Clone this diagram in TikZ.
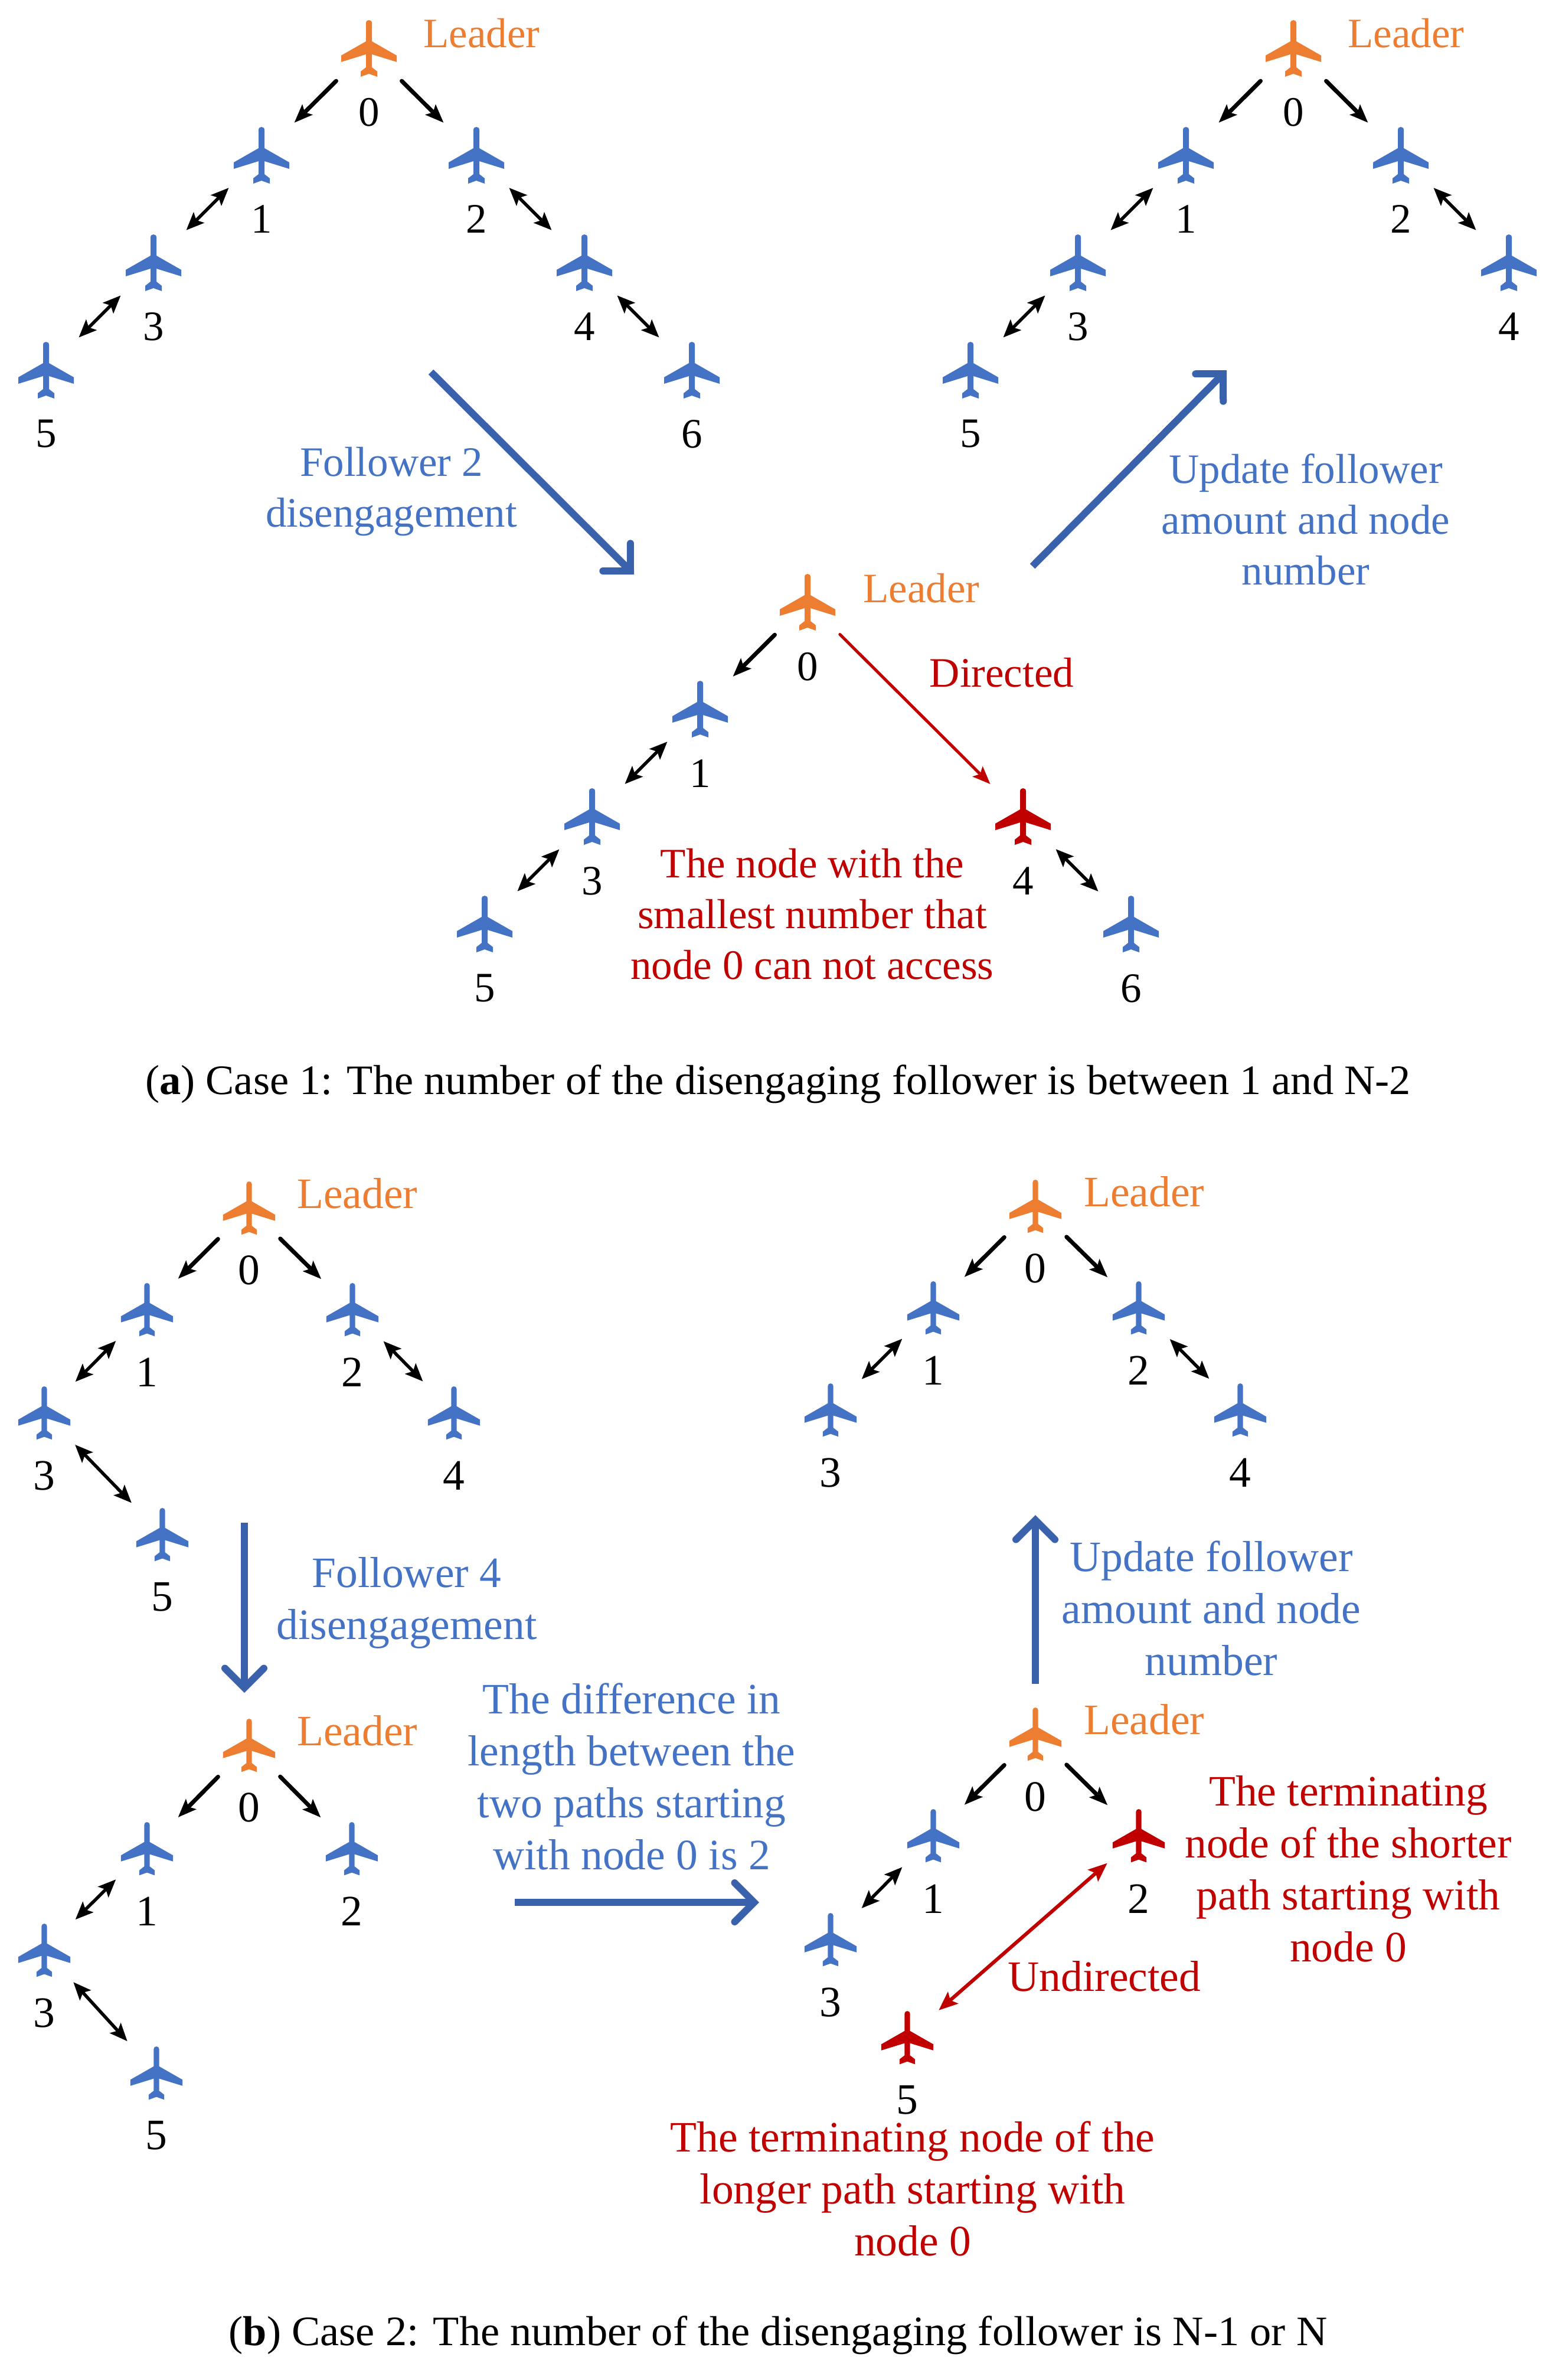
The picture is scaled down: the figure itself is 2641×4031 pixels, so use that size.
\documentclass[tikz,border=0pt]{standalone}
\usepackage{fontspec}
\usepackage{graphicx}
\setmainfont{Liberation Serif}
\usetikzlibrary{arrows.meta,calc}
\definecolor{pblue}{HTML}{4472C4}
\definecolor{porange}{HTML}{ED7D31}
\definecolor{pred}{HTML}{C00000}
\definecolor{bigblue}{HTML}{3A62AC}
\def\ps{1}\def\fs{71}\def\ls{86}
\tikzset{
  planebox/.style={minimum width={94pt*\ps},minimum height={96pt*\ps},inner sep=0pt,outer sep=0pt},
  numlabel/.style={font=\fontsize{\fs}{\ls}\selectfont,text=black,inner sep=0pt},
  leadertxt/.style={font=\fontsize{\fs}{\ls}\selectfont,text=porange,inner sep=0pt,anchor=base west},
  bluetxt/.style={font=\fontsize{\fs}{\ls}\selectfont,text=pblue,align=center,inner sep=0pt},
  redtxt/.style={font=\fontsize{\fs}{\ls}\selectfont,text=pred,align=center,inner sep=0pt},
  captxt/.style={font=\fontsize{71}{86}\selectfont,text=black,inner sep=0pt},
  oneway/.style={line width=7pt,line cap=round,draw=black,-{Stealth[length=31pt,width=24pt,inset=6pt]},shorten <=12pt,shorten >=12pt},
  twoway/.style={line width=5.5pt,draw=black,{Stealth[length=30pt,width=25pt,inset=6pt]}-{Stealth[length=30pt,width=25pt,inset=6pt]},shorten <=12pt,shorten >=12pt},
  redone/.style={line width=5pt,line cap=round,draw=pred,-{Stealth[length=30pt,width=24pt,inset=6pt]},shorten <=11pt,shorten >=12pt},
  redtwo/.style={line width=6pt,draw=pred,{Stealth[length=32pt,width=26pt,inset=6pt]}-{Stealth[length=32pt,width=26pt,inset=6pt]},shorten <=12pt,shorten >=12pt},
  bigarrow/.style={line width=12pt,draw=bigblue,-{Straight Barb[length=33pt,width=66pt,round=false,line join=miter]}},
}
% name, x, top y, colour, label, label offset
\newcommand{\plane}[6]{%
  \begin{scope}[shift={(#2,#3)}]
    \node[planebox] (#1) at (0,{48*\ps}) {};
    \fill[#4,scale=\ps] (-5,5) .. controls (-5,-1.6) and (5,-1.6) .. (5,5) -- (5,36) -- (47,60) -- (47,71) -- (5,58) -- (5,80) -- (14,87) -- (14,96) -- (0,91) -- (-14,96) -- (-14,87) -- (-5,80) -- (-5,58) -- (-47,71) -- (-47,60) -- (-5,36) -- cycle;
    \node[numlabel] (#1l) at (0,#6) {#5};
  \end{scope}}
\begin{document}
\begin{tikzpicture}[x=1pt,y=-1pt]
\useasboundingbox (0,0) rectangle (2641,4031);
\fill[white] (0,0) rectangle (2641,4031);
% Group A
\plane{aa}{625}{34}{porange}{0}{156}
\plane{ab}{443}{215}{pblue}{1}{156}
\plane{ac}{807}{215}{pblue}{2}{156}
\plane{ad}{260}{397}{pblue}{3}{156}
\plane{ae}{990}{397}{pblue}{4}{156}
\plane{af}{78}{579}{pblue}{5}{156}
\plane{ag}{1172}{579}{pblue}{6}{156}
\node[leadertxt] (al) at (717,80) {Leader};
\draw[oneway] (aa) -- (ab);
\draw[oneway] (aa) -- (ac);
\draw[twoway] (ab) -- (ad);
\draw[twoway] (ad) -- (af);
\draw[twoway] (ac) -- (ae);
\draw[twoway] (ae) -- (ag);
% Group B
\plane{ba}{2191}{34}{porange}{0}{156}
\plane{bb}{2009}{215}{pblue}{1}{156}
\plane{bc}{2373}{215}{pblue}{2}{156}
\plane{bd}{1826}{397}{pblue}{3}{156}
\plane{be}{2556}{397}{pblue}{4}{156}
\plane{bf}{1644}{579}{pblue}{5}{156}
\node[leadertxt] (bl) at (2283,80) {Leader};
\draw[oneway] (ba) -- (bb);
\draw[oneway] (ba) -- (bc);
\draw[twoway] (bb) -- (bd);
\draw[twoway] (bd) -- (bf);
\draw[twoway] (bc) -- (be);
% Group C
\plane{ca}{1368}{972}{porange}{0}{157}
\plane{cb}{1186}{1153}{pblue}{1}{157}
\plane{cd}{1003}{1335}{pblue}{3}{157}
\plane{cf}{821}{1517}{pblue}{5}{157}
\plane{ce}{1733}{1335}{pred}{4}{157}
\plane{cg}{1916}{1517}{pblue}{6}{157}
\node[leadertxt] (cl) at (1462,1020) {Leader};
\draw[oneway] (ca) -- (cb);
\draw[twoway] (cb) -- (cd);
\draw[twoway] (cd) -- (cf);
\draw[redone] (ca) -- (ce);
\draw[twoway] (ce) -- (cg);
% Big arrows
\coordinate (s1) at (730,630); \coordinate (e1) at (1074,973);
\coordinate (s2) at (1749,959); \coordinate (e2) at (2078,627);
\coordinate (s3) at (414,2579); \coordinate (e3) at (414,2867);
\coordinate (s4) at (872,3222); \coordinate (e4) at (1286,3222);
\coordinate (s5) at (1754,2852); \coordinate (e5) at (1754,2566);
\draw[bigarrow] (s1) -- (e1);
\draw[bigarrow] (s2) -- (e2);
\draw[bigarrow] (s3) -- (e3);
\draw[bigarrow] (s4) -- (e4);
\draw[bigarrow] (s5) -- (e5);
% Text, upper part
\node[bluetxt] (t1) at (663,833) {Follower 2\\disengagement};
\node[bluetxt] (t2) at (2212,880) {Update follower\\amount and node\\number};
\node[redtxt] (t3) at (1697,1139) {Directed};
\node[redtxt] (t4) at (1376,1548) {The node with the\\smallest number that\\node 0 can not access};
\node[captxt] (c1) at (1318,1836) {\scalebox{1.02}[1]{(\textbf{a}) Case 1: The number of the disengaging follower is between 1 and N-2}};
% Lower part: slightly smaller planes, slightly larger text
\def\ps{0.94}\def\fs{73.5}\def\ls{88}
% Group D
\plane{da}{422}{2001}{porange}{0}{150}
\plane{db}{249}{2173}{pblue}{1}{151}
\plane{dc}{597}{2173}{pblue}{2}{151}
\plane{dd}{75}{2348}{pblue}{3}{151}
\plane{de}{769}{2348}{pblue}{4}{151}
\plane{df}{275}{2554}{pblue}{5}{151}
\node[leadertxt] (dl) at (503,2046) {Leader};
\draw[oneway] (da) -- (db);
\draw[oneway] (da) -- (dc);
\draw[twoway] (db) -- (dd);
\draw[twoway] (dc) -- (de);
\draw[twoway] (dd) -- (df);
% Group E
\plane{ea}{422}{2911}{porange}{0}{150}
\plane{eb}{249}{3086}{pblue}{1}{151}
\plane{ec}{596}{3086}{pblue}{2}{151}
\plane{ed}{75}{3258}{pblue}{3}{151}
\plane{ef}{265}{3466}{pblue}{5}{151}
\node[leadertxt] (el) at (503,2956) {Leader};
\draw[oneway] (ea) -- (eb);
\draw[oneway] (ea) -- (ec);
\draw[twoway] (eb) -- (ed);
\draw[twoway] (ed) -- (ef);
% Group F
\plane{fa}{1754}{1998}{porange}{0}{150}
\plane{fb}{1581}{2170}{pblue}{1}{151}
\plane{fc}{1929}{2170}{pblue}{2}{151}
\plane{fd}{1407}{2343}{pblue}{3}{151}
\plane{fe}{2101}{2343}{pblue}{4}{151}
\node[leadertxt] (fl) at (1836,2043) {Leader};
\draw[oneway] (fa) -- (fb);
\draw[oneway] (fa) -- (fc);
\draw[twoway] (fb) -- (fd);
\draw[twoway] (fc) -- (fe);
% Group G
\plane{ga}{1754}{2892}{porange}{0}{151}
\plane{gb}{1581}{3064}{pblue}{1}{152}
\plane{gc}{1929}{3064}{pred}{2}{152}
\plane{gd}{1407}{3240}{pblue}{3}{151}
\plane{gf}{1537}{3406}{pred}{5}{151}
\node[leadertxt] (gl) at (1836,2937) {Leader};
\draw[oneway] (ga) -- (gb);
\draw[oneway] (ga) -- (gc);
\draw[twoway] (gb) -- (gd);
\draw[redtwo] (gc) -- (gf);
% Text, lower part
\node[bluetxt] (t5) at (689,2715) {Follower 4\\disengagement};
\node[bluetxt] (t6) at (1070,3009) {The difference in\\length between the\\two paths starting\\with node 0 is 2};
\node[bluetxt] (t7) at (2052,2724) {Update follower\\amount and node\\number};
\node[redtxt] (t8) at (2284,3165) {The terminating\\node of the shorter\\path starting with\\node 0};
\node[redtxt] (t9) at (1871,3347) {Undirected};
\node[redtxt] (t10) at (1546,3707) {The terminating node of the\\longer path starting with\\node 0};
\node[captxt] (c2) at (1318,3955) {\scalebox{1.02}[1]{(\textbf{b}) Case 2: The number of the disengaging follower is N-1 or N}};
\end{tikzpicture}
\end{document}
